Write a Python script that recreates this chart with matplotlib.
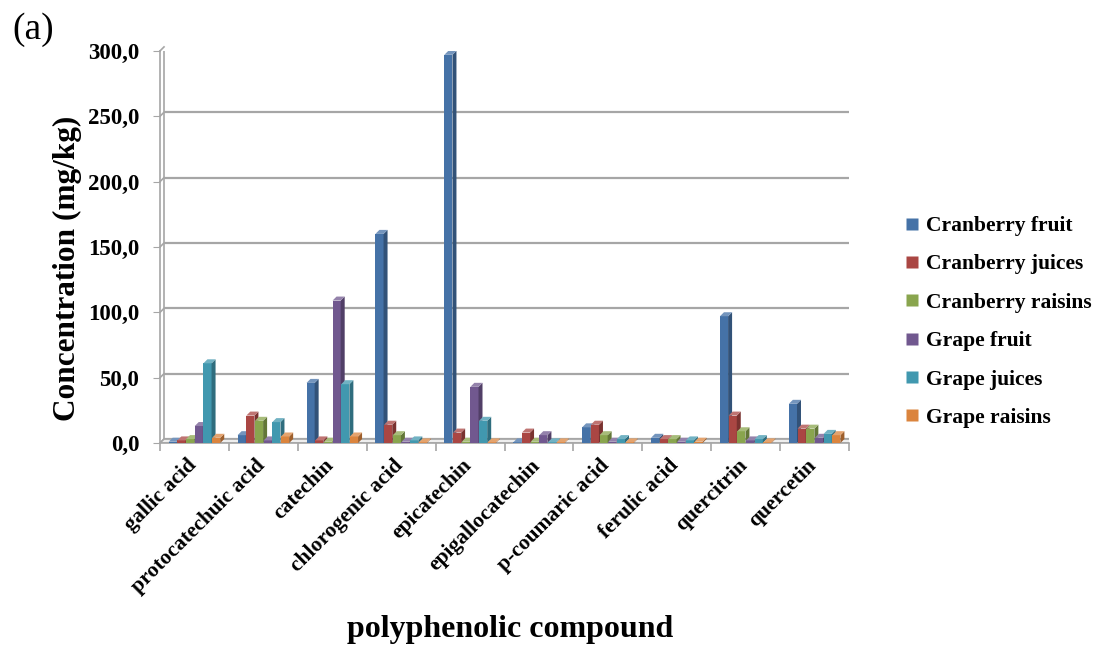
import numpy as np
import matplotlib.pyplot as plt
from matplotlib.patches import Polygon
from matplotlib.lines import Line2D
from matplotlib.transforms import ScaledTranslation
import matplotlib.colors as mcolors

compounds = ['gallic acid', 'protocatechuic acid', 'catechin', 'chlorogenic acid',
             'epicatechin', 'epigallocatechin', 'p-coumaric acid', 'ferulic acid',
             'quercitrin', 'quercetin']
series = ['Cranberry fruit', 'Cranberry juices', 'Cranberry raisins',
          'Grape fruit', 'Grape juices', 'Grape raisins']

cranberry_fruit = [1.0, 6.0, 46.0, 160.0, 297.0, 0.5, 12.0, 4.0, 97.0, 30.0]
cranberry_juices = [2.0, 21.0, 2.0, 14.0, 8.0, 8.0, 14.0, 3.0, 21.0, 11.0]
cranberry_raisins = [3.0, 17.0, 1.0, 6.0, 1.0, 1.0, 6.0, 3.0, 9.0, 11.0]
grape_fruit = [13.0, 2.0, 109.0, 1.0, 43.0, 6.0, 1.0, 1.0, 2.0, 4.0]
grape_juices = [61.0, 16.0, 45.0, 2.0, 17.0, 0.5, 3.0, 2.0, 3.0, 7.0]
grape_raisins = [4.0, 5.0, 5.0, 0.5, 0.5, 0.5, 0.5, 1.0, 0.5, 6.0]

values = [cranberry_fruit, cranberry_juices, cranberry_raisins,
          grape_fruit, grape_juices, grape_raisins]
colors = ['#4572A7', '#AA4643', '#89A54E', '#71588F', '#4198AF', '#DB843D']

plt.rcParams['font.family'] = ['Liberation Serif', 'DejaVu Serif']
plt.rcParams['font.weight'] = 'bold'

fig = plt.figure(figsize=(10.99, 6.46), dpi=100)
ax_rect = [0.1456, 0.3142, 0.627, 0.607]
ax = fig.add_axes(ax_rect)
ax.set_xlim(0, 10)
ax.set_ylim(0, 300)

# pixel -> data conversion for the fake 3d depth
w_px = ax_rect[2] * 1099
h_px = ax_rect[3] * 646
dx = 4 * 10 / w_px
dy = 4 * 300 / h_px


def tint(c, f):
    r = np.array(mcolors.to_rgb(c))
    if f < 1:
        return tuple(r * f)
    return tuple(r + (1 - r) * (f - 1))


# back wall grid
grid_c = '#a6a6a6'
for v in range(0, 301, 50):
    ax.plot([0 + dx, 10 + dx], [v + dy, v + dy], color=grid_c, lw=1.6, zorder=1,
            solid_capstyle='butt')
    ax.plot([0, dx], [v, v + dy], color=grid_c, lw=1.2, zorder=1, clip_on=False)
ax.plot([dx, dx], [dy, 300 + dy], color=grid_c, lw=1.2, zorder=1)

# floor
floor = Polygon([(0, 0), (10, 0), (10 + dx, dy), (dx, dy)], closed=True,
                facecolor='#eeeeee', edgecolor=grid_c, lw=1.2, zorder=1.5)
ax.add_patch(floor)

step = 0.126
bw = 0.118
for j, (vals, col) in enumerate(zip(values, colors)):
    xs = np.arange(len(compounds)) + 0.5 + (j - 2.5) * step
    ax.bar(xs, vals, width=bw, color=col, zorder=3 + j, label=series[j],
           linewidth=0)
    for x, v in zip(xs, vals):
        x0, x1 = x - bw / 2, x + bw / 2
        side = Polygon([(x1, 0), (x1 + dx, dy), (x1 + dx, v + dy), (x1, v)],
                       closed=True, facecolor=tint(col, 0.72), lw=0, zorder=3 + j)
        top = Polygon([(x0, v), (x0 + dx, v + dy), (x1 + dx, v + dy), (x1, v)],
                      closed=True, facecolor=tint(col, 1.25), lw=0, zorder=3 + j)
        ax.add_patch(side)
        ax.add_patch(top)

for s in ['top', 'right']:
    ax.spines[s].set_visible(False)
for s in ['left', 'bottom']:
    ax.spines[s].set_color(grid_c)
    ax.spines[s].set_linewidth(1.2)

ax.set_yticks(range(0, 301, 50))
ax.set_yticklabels([f'{v},0' for v in range(0, 301, 50)], fontsize=16.5,
                   fontweight='bold')
ax.tick_params(axis='y', length=5, color=grid_c, pad=10)

ax.set_xticks(np.arange(len(compounds)) + 0.5)
ax.set_xticklabels(compounds, rotation=45, ha='right', va='top',
                   rotation_mode='anchor', fontsize=15.5, fontweight='bold')
ax.set_xticks(np.arange(0, 11), minor=True)
ax.tick_params(axis='x', which='major', length=0, pad=9)
ax.tick_params(axis='x', which='minor', length=6, color=grid_c, width=1.2)
shift = ScaledTranslation(-6 / 72, 0, fig.dpi_scale_trans)
for lbl in ax.get_xticklabels():
    lbl.set_transform(lbl.get_transform() + shift)

fig.text(67 / 1099, 1 - 268 / 646, 'Concentration (mg/kg)', rotation=90,
         ha='center', va='center', fontsize=22.5, fontweight='bold')
fig.text(510 / 1099, 1 - 630 / 646, 'polyphenolic compound', ha='center',
         va='center', fontsize=23, fontweight='bold')
fig.text(12 / 1099, 1 - 30 / 646, '(a)', ha='left', va='center', fontsize=27,
         fontweight='normal')

handles = [Line2D([0], [0], marker='s', color='none', markerfacecolor=c,
                  markeredgecolor='none', markersize=8) for c in colors]
fig.legend(handles, series, loc='center left',
           bbox_to_anchor=(895 / 1099, 1 - 322 / 646), frameon=False,
           prop={'size': 15.5, 'weight': 'bold'}, handlelength=0.8,
           handletextpad=0.25, labelspacing=0.85, borderaxespad=0)

fig.savefig('out.png', dpi=100)
